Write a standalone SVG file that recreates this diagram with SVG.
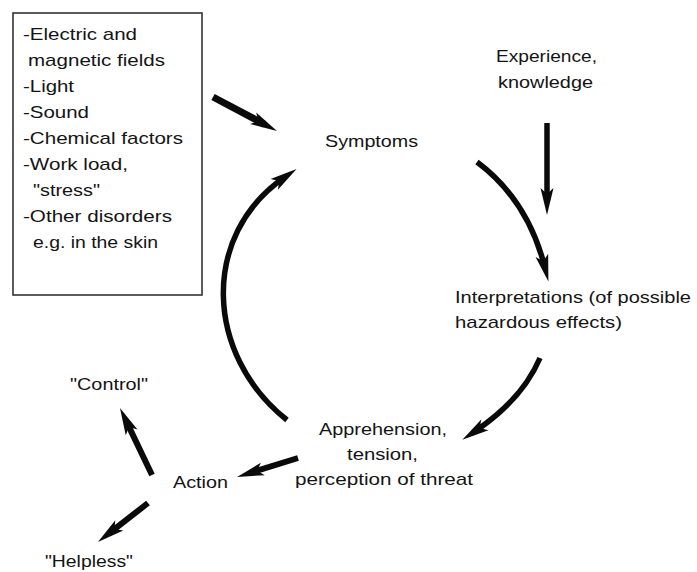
<svg xmlns="http://www.w3.org/2000/svg" width="697" height="572" viewBox="0 0 697 572">
<style>
text{font-family:"Liberation Sans",Arial,Helvetica,sans-serif;font-size:17px;fill:#141414}
.ln{fill:none;stroke:#0a0a0a;stroke-linecap:butt}
.box{fill:#fff;stroke:#333;stroke-width:1.6}
</style>
<defs>
<marker id="ah" markerUnits="userSpaceOnUse" viewBox="-30 -8 32 16" markerWidth="32" markerHeight="16" refX="-14" refY="0" orient="auto" overflow="visible">
<path d="M0,0 L-27,-6.5 L-21,0 L-27,6.5 Z" fill="#0a0a0a"/>
</marker>
</defs>
<rect width="697" height="572" fill="#fff"/>
<g id="stimuli">
<rect class="box" x="13" y="13" width="189" height="282"/>
<text x="23" y="40" textLength="114" lengthAdjust="spacingAndGlyphs">-Electric and</text>
<text x="28" y="66" textLength="137" lengthAdjust="spacingAndGlyphs">magnetic fields</text>
<text x="23" y="92" textLength="51" lengthAdjust="spacingAndGlyphs">-Light</text>
<text x="23" y="118" textLength="66" lengthAdjust="spacingAndGlyphs">-Sound</text>
<text x="23" y="144" textLength="160" lengthAdjust="spacingAndGlyphs">-Chemical factors</text>
<text x="23" y="170" textLength="105" lengthAdjust="spacingAndGlyphs">-Work load,</text>
<text x="33" y="196" textLength="67" lengthAdjust="spacingAndGlyphs">"stress"</text>
<text x="23" y="222" textLength="149" lengthAdjust="spacingAndGlyphs">-Other disorders</text>
<text x="33" y="248" textLength="125" lengthAdjust="spacingAndGlyphs">e.g. in the skin</text>
</g>
<g id="experience">
<text x="496" y="62" textLength="101" lengthAdjust="spacingAndGlyphs">Experience,</text>
<text x="498" y="88" textLength="95" lengthAdjust="spacingAndGlyphs">knowledge</text>
</g>
<g id="symptoms">
<text x="325" y="147" textLength="93" lengthAdjust="spacingAndGlyphs">Symptoms</text>
</g>
<g id="interpretations">
<text x="455" y="303" textLength="236" lengthAdjust="spacingAndGlyphs">Interpretations (of possible</text>
<text x="455" y="328" textLength="167" lengthAdjust="spacingAndGlyphs">hazardous effects)</text>
</g>
<g id="apprehension">
<text x="319" y="435" textLength="128" lengthAdjust="spacingAndGlyphs">Apprehension,</text>
<text x="347" y="460" textLength="71" lengthAdjust="spacingAndGlyphs">tension,</text>
<text x="295" y="485" textLength="178" lengthAdjust="spacingAndGlyphs">perception of threat</text>
</g>
<g id="action">
<text x="173" y="488" textLength="55" lengthAdjust="spacingAndGlyphs">Action</text>
</g>
<g id="control">
<text x="70" y="390" textLength="78" lengthAdjust="spacingAndGlyphs">"Control"</text>
</g>
<g id="helpless">
<text x="45" y="567" textLength="88" lengthAdjust="spacingAndGlyphs">"Helpless"</text>
</g>
<g id="connectors">
<path class="ln" stroke-width="7" d="M213,97 L264.6,124.4" marker-end="url(#ah)"/>
<path class="ln" stroke-width="5.5" d="M547,123 L547,201" marker-end="url(#ah)"/>
<path class="ln" stroke-width="5.5" d="M477,162 Q528,200 545,268" marker-end="url(#ah)"/>
<path class="ln" stroke-width="5.5" d="M540,358 Q522,400 474,432" marker-end="url(#ah)"/>
<path class="ln" stroke-width="5.5" d="M287,420 C205,355 200,235 285,177" marker-end="url(#ah)"/>
<path class="ln" stroke-width="6" d="M298,458 L250.4,472.8" marker-end="url(#ah)"/>
<path class="ln" stroke-width="6" d="M152,475 L126,420.6" marker-end="url(#ah)"/>
<path class="ln" stroke-width="6" d="M148,503 L109,533.4" marker-end="url(#ah)"/>
</g>
</svg>
